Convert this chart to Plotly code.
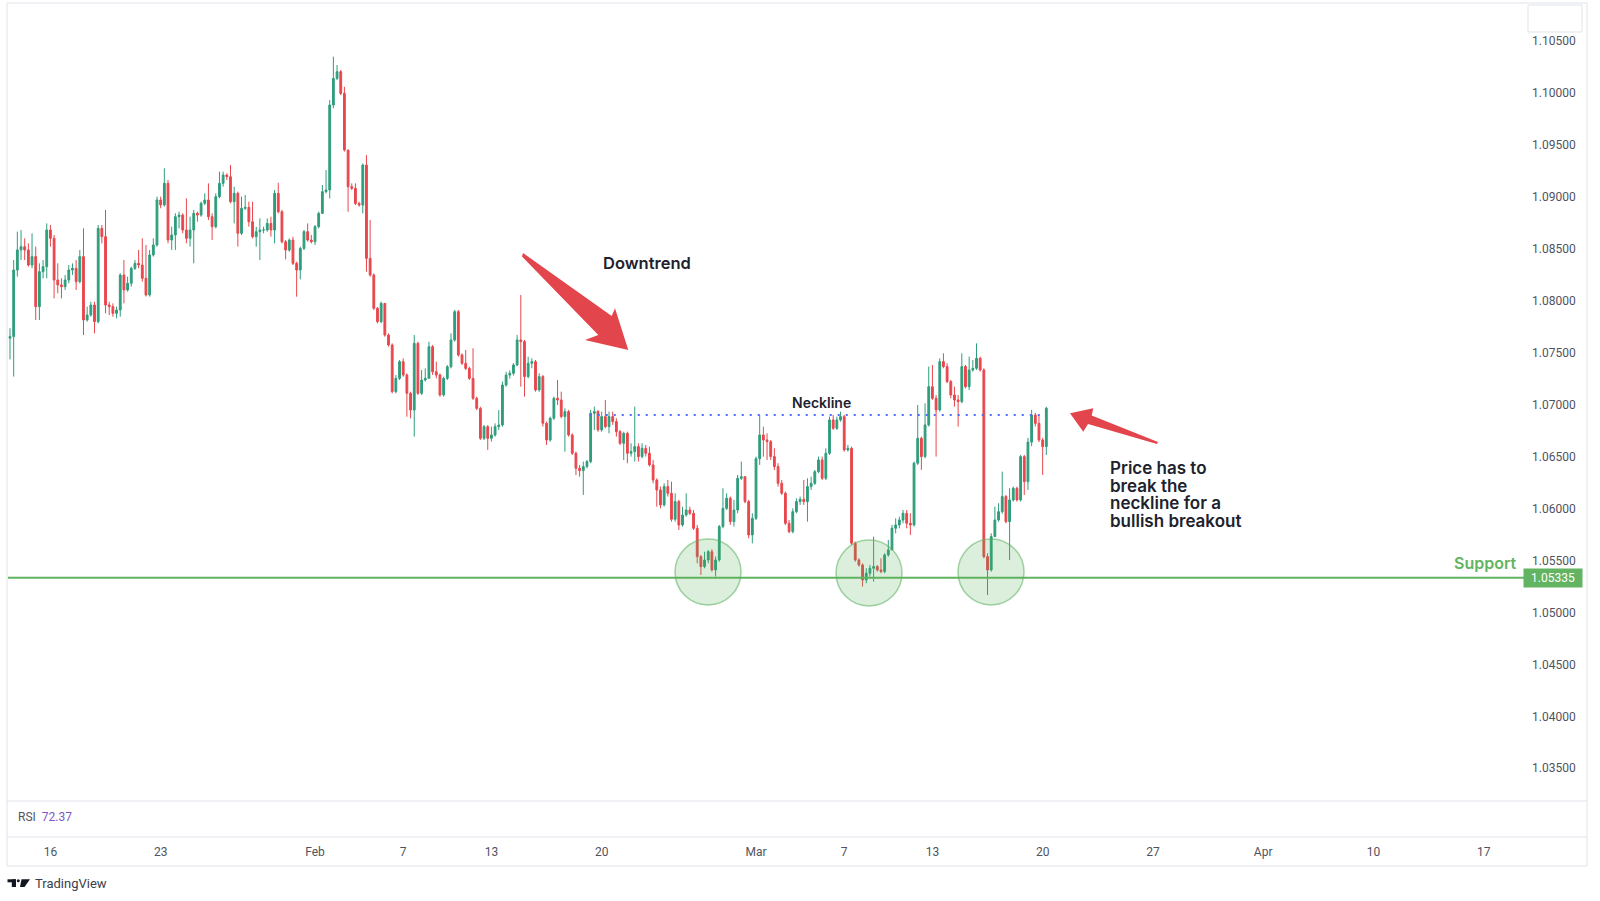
import pandas as pd
import plotly.graph_objects as go

# EUR/USD, 4h candles from 12 Jan to 20 Mar 2023
first_open = 1.07639

closes = [
    1.07655, 1.08296, 1.08489, 1.08521, 1.08489,                    # Jan 12
    1.08344, 1.08425, 1.07943, 1.08280, 1.08328, 1.08681,           # Jan 13
    1.08601, 1.08200, 1.08152, 1.08136, 1.08200, 1.08296,           # Jan 16
    1.08312, 1.08184, 1.08425, 1.07815, 1.07863, 1.07959,           # Jan 17
    1.07799, 1.08697, 1.08617, 1.07959, 1.07943, 1.07879,           # Jan 18
    1.07911, 1.08248, 1.08104, 1.08168, 1.08312, 1.08360,           # Jan 19
    1.08344, 1.08216, 1.08056, 1.08441, 1.08537, 1.08970,           # Jan 20
    1.08922, 1.09130, 1.08585, 1.08633, 1.08809, 1.08825,           # Jan 23
    1.08681, 1.08601, 1.08681, 1.08842, 1.08825, 1.08938,           # Jan 24
    1.08970, 1.08809, 1.08713, 1.09002, 1.09130, 1.09210,           # Jan 25
    1.09194, 1.08954, 1.09034, 1.08649, 1.08890, 1.08899,           # Jan 26
    1.08760, 1.08617, 1.08665, 1.08681, 1.08681, 1.08745,           # Jan 27
    1.08681, 1.09034, 1.08857, 1.08568, 1.08488, 1.08584,           # Jan 30
    1.08360, 1.08296, 1.08504, 1.08665, 1.08584, 1.08568,           # Jan 31
    1.08713, 1.08841, 1.09050, 1.09066, 1.09884, 1.10140,           # Feb 1
    1.10205, 1.09996, 1.09451, 1.09098, 1.09082, 1.08937,           # Feb 2
    1.08921, 1.09306, 1.08408, 1.08248, 1.07927, 1.07799,           # Feb 3
    1.07975, 1.07670, 1.07574, 1.07125, 1.07253, 1.07414,           # Feb 6
    1.07285, 1.07109, 1.06948, 1.07590, 1.07109, 1.07237,           # Feb 7
    1.07253, 1.07558, 1.07317, 1.07285, 1.07093, 1.07253,           # Feb 8
    1.07365, 1.07622, 1.07895, 1.07478, 1.07398, 1.07349,           # Feb 9
    1.07253, 1.07061, 1.06964, 1.06676, 1.06788, 1.06676,           # Feb 10
    1.06708, 1.06788, 1.06804, 1.07189, 1.07285, 1.07302,           # Feb 13
    1.07382, 1.07623, 1.07607, 1.07270, 1.07398, 1.07414,           # Feb 14
    1.07141, 1.07270, 1.06821, 1.06660, 1.06869, 1.07061,           # Feb 15
    1.07045, 1.06885, 1.06933, 1.06708, 1.06532, 1.06388,           # Feb 16
    1.06365, 1.06404, 1.06452, 1.06917, 1.06933, 1.06757,           # Feb 17
    1.06885, 1.06788, 1.06885, 1.06837, 1.06740, 1.06628,           # Feb 20
    1.06724, 1.06532, 1.06548, 1.06596, 1.06500, 1.06580,           # Feb 21
    1.06532, 1.06420, 1.06275, 1.06179, 1.06035, 1.06211,           # Feb 22
    1.06147, 1.05897, 1.06067, 1.05842, 1.05938, 1.05986,           # Feb 23
    1.05954, 1.05810, 1.05537, 1.05441, 1.05505, 1.05585,           # Feb 24
    1.05409, 1.05505, 1.05826, 1.06002, 1.06099, 1.05874,           # Feb 27
    1.05986, 1.06291, 1.06307, 1.06067, 1.05746, 1.05906,           # Feb 28
    1.06480, 1.06708, 1.06660, 1.06644, 1.06500, 1.06404,           # Mar 1
    1.06243, 1.06147, 1.05858, 1.05778, 1.05970, 1.06067,           # Mar 2
    1.06089, 1.06067, 1.06211, 1.06243, 1.06355, 1.06468,           # Mar 3
    1.06291, 1.06532, 1.06853, 1.06772, 1.06853, 1.06885,           # Mar 6
    1.06564, 1.06580, 1.05666, 1.05505, 1.05457, 1.05313,           # Mar 7
    1.05377, 1.05425, 1.05441, 1.05409, 1.05393, 1.05554,           # Mar 8
    1.05602, 1.05810, 1.05842, 1.05890, 1.05954, 1.05858,           # Mar 9
    1.05842, 1.06436, 1.06676, 1.06500, 1.06805, 1.07173,           # Mar 10
    1.07061, 1.06949, 1.07414, 1.07366, 1.07222, 1.07093,           # Mar 13
    1.07045, 1.07029, 1.07366, 1.07173, 1.07334, 1.07350,           # Mar 14
    1.07446, 1.07334, 1.05537, 1.05409, 1.05730, 1.05890,           # Mar 15
    1.05970, 1.06115, 1.05874, 1.06083, 1.06195, 1.06083,           # Mar 16
    1.06500, 1.06259, 1.06640, 1.06900, 1.06820, 1.06660,           # Mar 17
    1.06596, 1.06965,                                               # Mar 20
]

highs = [
    1.07735, 1.08392, 1.08665, 1.08681, 1.08601,
    1.08553, 1.08649, 1.08521, 1.08360, 1.08392, 1.08745,
    1.08729, 1.08633, 1.08360, 1.08216, 1.08248, 1.08344,
    1.08360, 1.08392, 1.08489, 1.08697, 1.07943, 1.07991,
    1.07991, 1.08729, 1.08729, 1.08874, 1.07991, 1.07975,
    1.07943, 1.08264, 1.08392, 1.08232, 1.08328, 1.08392,
    1.08489, 1.08601, 1.08537, 1.08489, 1.08601, 1.09002,
    1.09002, 1.09275, 1.09162, 1.08713, 1.08842, 1.08858,
    1.08842, 1.08986, 1.08809, 1.08874, 1.08858, 1.08954,
    1.09034, 1.09130, 1.08842, 1.09034, 1.09243, 1.09243,
    1.09226, 1.09307, 1.09098, 1.09050, 1.09002, 1.09018,
    1.08954, 1.08953, 1.08713, 1.08793, 1.08713, 1.08793,
    1.08809, 1.09066, 1.09136, 1.08873, 1.08584, 1.08600,
    1.08616, 1.08376, 1.08520, 1.08681, 1.08745, 1.08633,
    1.08729, 1.08857, 1.09114, 1.09258, 1.09932, 1.10349,
    1.10269, 1.10221, 1.10060, 1.09451, 1.09130, 1.09130,
    1.08953, 1.09322, 1.09402, 1.08777, 1.08264, 1.07940,
    1.07991, 1.07975, 1.07686, 1.07590, 1.07285, 1.07430,
    1.07446, 1.07301, 1.07125, 1.07670, 1.07606, 1.07333,
    1.07349, 1.07606, 1.07574, 1.07414, 1.07301, 1.07269,
    1.07381, 1.07686, 1.07911, 1.07911, 1.07494, 1.07526,
    1.07365, 1.07542, 1.07077, 1.06980, 1.06804, 1.06804,
    1.06788, 1.06820, 1.06948, 1.07221, 1.07317, 1.07330,
    1.07400, 1.07671, 1.08056, 1.07623, 1.07462, 1.07446,
    1.07430, 1.07302, 1.07286, 1.06837, 1.06885, 1.07077,
    1.07238, 1.07125, 1.06965, 1.06949, 1.06724, 1.06548,
    1.06420, 1.06452, 1.06468, 1.06949, 1.06981, 1.06949,
    1.06933, 1.07045, 1.06933, 1.06933, 1.06869, 1.06757,
    1.06740, 1.06740, 1.06628, 1.06981, 1.06628, 1.06628,
    1.06612, 1.06596, 1.06468, 1.06291, 1.06211, 1.06243,
    1.06275, 1.06259, 1.06147, 1.06083, 1.06018, 1.06147,
    1.06018, 1.05986, 1.05842, 1.05553, 1.05585, 1.05601,
    1.05608, 1.05537, 1.05842, 1.06195, 1.06147, 1.06115,
    1.06083, 1.06323, 1.06452, 1.06307, 1.06083, 1.05954,
    1.06500, 1.06901, 1.06788, 1.06724, 1.06660, 1.06580,
    1.06436, 1.06275, 1.06163, 1.05890, 1.06002, 1.06099,
    1.06115, 1.06275, 1.06291, 1.06307, 1.06371, 1.06500,
    1.06500, 1.06580, 1.06885, 1.06901, 1.06885, 1.06933,
    1.06901, 1.06612, 1.06596, 1.05682, 1.05521, 1.05473,
    1.05425, 1.05457, 1.05730, 1.05457, 1.05521, 1.05570,
    1.05698, 1.05842, 1.05906, 1.05922, 1.05986, 1.05986,
    1.05954, 1.06452, 1.06997, 1.06692, 1.07013, 1.07366,
    1.07382, 1.07093, 1.07446, 1.07494, 1.07398, 1.07238,
    1.07173, 1.07093, 1.07494, 1.07382, 1.07462, 1.07430,
    1.07590, 1.07462, 1.07350, 1.05569, 1.05762, 1.06018,
    1.06051, 1.06355, 1.06131, 1.06195, 1.06211, 1.06211,
    1.06516, 1.06516, 1.06680, 1.06950, 1.06920, 1.06900,
    1.06680, 1.06980,
]

lows = [
    1.07436, 1.07270, 1.08232, 1.08392, 1.08392,
    1.08328, 1.08312, 1.07815, 1.07815, 1.08216, 1.08216,
    1.08521, 1.08023, 1.08072, 1.08023, 1.08104, 1.08168,
    1.08248, 1.08104, 1.08168, 1.07671, 1.07799, 1.07847,
    1.07687, 1.07783, 1.08553, 1.07879, 1.07863, 1.07847,
    1.07831, 1.07847, 1.07975, 1.08088, 1.08136, 1.08296,
    1.08312, 1.08184, 1.08040, 1.08040, 1.08425, 1.08521,
    1.08890, 1.08906, 1.08553, 1.08489, 1.08489, 1.08697,
    1.08649, 1.08553, 1.08521, 1.08360, 1.08761, 1.08809,
    1.08922, 1.08777, 1.08585, 1.08697, 1.08986, 1.09098,
    1.09162, 1.08938, 1.08745, 1.08521, 1.08633, 1.08874,
    1.08713, 1.08600, 1.08520, 1.08392, 1.08650, 1.08665,
    1.08617, 1.08552, 1.08841, 1.08552, 1.08398, 1.08472,
    1.08344, 1.08039, 1.08206, 1.08488, 1.08568, 1.08552,
    1.08536, 1.08697, 1.08841, 1.09034, 1.08985, 1.09852,
    1.10124, 1.09980, 1.09435, 1.08857, 1.09066, 1.08921,
    1.08905, 1.08841, 1.08280, 1.08232, 1.07911, 1.07783,
    1.07783, 1.07654, 1.07558, 1.07109, 1.07109, 1.07237,
    1.07269, 1.06884, 1.06868, 1.06692, 1.07093, 1.07093,
    1.07221, 1.07253, 1.07285, 1.07253, 1.07077, 1.07077,
    1.07237, 1.07349, 1.07606, 1.07462, 1.07382, 1.07333,
    1.07237, 1.07045, 1.06948, 1.06660, 1.06660, 1.06564,
    1.06644, 1.06692, 1.06756, 1.06788, 1.07173, 1.07250,
    1.07280, 1.07370, 1.07173, 1.07077, 1.07254, 1.07350,
    1.07125, 1.07125, 1.06789, 1.06612, 1.06644, 1.06853,
    1.06997, 1.06869, 1.06548, 1.06692, 1.06516, 1.06323,
    1.06307, 1.06131, 1.06388, 1.06436, 1.06756, 1.06740,
    1.06740, 1.06772, 1.06724, 1.06805, 1.06692, 1.06612,
    1.06468, 1.06436, 1.06500, 1.06452, 1.06452, 1.06484,
    1.06500, 1.06404, 1.06243, 1.06018, 1.06002, 1.06018,
    1.06115, 1.05874, 1.05874, 1.05794, 1.05826, 1.05922,
    1.05938, 1.05794, 1.05473, 1.05361, 1.05425, 1.05473,
    1.05393, 1.05345, 1.05489, 1.05810, 1.05986, 1.05842,
    1.05826, 1.05954, 1.06275, 1.06051, 1.05714, 1.05665,
    1.05890, 1.06420, 1.06500, 1.06468, 1.06468, 1.06372,
    1.06211, 1.06131, 1.05842, 1.05762, 1.05762, 1.05954,
    1.06035, 1.06035, 1.05874, 1.06179, 1.06227, 1.06340,
    1.06275, 1.06275, 1.06516, 1.06756, 1.06756, 1.06837,
    1.06548, 1.06548, 1.05650, 1.05489, 1.05441, 1.05249,
    1.05281, 1.05345, 1.05297, 1.05393, 1.05377, 1.05377,
    1.05537, 1.05602, 1.05762, 1.05810, 1.05858, 1.05810,
    1.05746, 1.05826, 1.06420, 1.06372, 1.06484, 1.06789,
    1.07045, 1.06500, 1.06933, 1.07350, 1.07206, 1.07061,
    1.06981, 1.06788, 1.07013, 1.07157, 1.07141, 1.07318,
    1.07334, 1.07318, 1.05521, 1.05168, 1.05393, 1.05730,
    1.05874, 1.05950, 1.05858, 1.05505, 1.06067, 1.06067,
    1.06067, 1.06131, 1.06180, 1.06600, 1.06790, 1.06640,
    1.06323, 1.06516,
]

price_ticks = [1.035, 1.040, 1.045, 1.050, 1.055, 1.060, 1.065, 1.070,
               1.075, 1.080, 1.085, 1.090, 1.095, 1.100, 1.105]
date_ticks = ["2023-01-16", "2023-01-23", "2023-02-01", "2023-02-07",
              "2023-02-13", "2023-02-20", "2023-03-01", "2023-03-07",
              "2023-03-13", "2023-03-20", "2023-03-27", "2023-04-03",
              "2023-04-10", "2023-04-17"]
date_labels = ["16", "23", "Feb", "7", "13", "20", "Mar", "7", "13", "20",
               "27", "Apr", "10", "17"]

support_level = 1.05335
neckline_level = 1.0690
neckline_span = ["2023-02-17 11:00", "2023-03-20 02:00"]
rsi_value = 72.37

UP = "#2f9d7c"
DOWN = "#e8474d"
ARROW = "#e2464c"
GREEN = "#62b462"
FRAME = "#e0e3eb"

# page geometry (pixels); the plot area covers the price pane only
W, H = 1600, 901
PL, PR, PT, PB = 8, 1525, 3, 801


def fx(px):
    return (px - PL) / (PR - PL)


def fy(py):
    return (PB - py) / (PB - PT)


def poly(points):
    return "M " + " L ".join(f"{fx(x):.5f},{fy(y):.5f}" for x, y in points) + " Z"


days = pd.bdate_range("2023-01-12", "2023-03-20")
slots = [d + pd.Timedelta(hours=h) for d in days for h in range(0, 24, 4)]
times = slots[1:1 + len(closes)]
opens = [first_open] + closes[:-1]

fig = go.Figure()
fig.add_trace(go.Candlestick(
    x=times, open=opens, high=highs, low=lows, close=closes,
    increasing=dict(line=dict(color=UP, width=1), fillcolor=UP),
    decreasing=dict(line=dict(color=DOWN, width=1), fillcolor=DOWN),
    whiskerwidth=0, showlegend=False, hoverinfo="skip",
))

shapes = []
# support and neckline
shapes.append(dict(type="line", xref="paper", x0=0, x1=1, yref="y",
                   y0=support_level, y1=support_level,
                   line=dict(color=GREEN, width=2)))
shapes.append(dict(type="line", xref="x", x0=neckline_span[0], x1=neckline_span[1],
                   yref="y", y0=neckline_level, y1=neckline_level,
                   line=dict(color="#4f6df5", width=2, dash="2px,6px")))
# triple bottom circles
for cx, cy in [(708, 572), (869, 573), (991, 572)]:
    r = 33
    shapes.append(dict(type="circle", xref="paper", yref="paper",
                       x0=fx(cx - r), x1=fx(cx + r), y0=fy(cy + r), y1=fy(cy - r),
                       fillcolor="rgba(76,175,80,0.2)",
                       line=dict(color="rgba(90,175,90,0.55)", width=1.5)))
# arrows
shapes.append(dict(type="path", xref="paper", yref="paper", fillcolor=ARROW,
                   line=dict(width=0),
                   path=poly([(523, 253), (611.7, 316), (615, 308.3), (628.3, 350),
                              (585, 340), (598.3, 335), (522, 256.5)])))
shapes.append(dict(type="path", xref="paper", yref="paper", fillcolor=ARROW,
                   line=dict(width=0),
                   path=poly([(1070, 413.3), (1093.3, 408.3), (1091.7, 415.5),
                              (1158, 442), (1157, 444), (1088, 424), (1083.3, 431.7)])))
# pane frame
for x0, y0, x1, y1 in [(7, 3, 1587, 3), (7, 3, 7, 866), (1587, 3, 1587, 866),
                       (7, 801, 1587, 801), (7, 837, 1587, 837), (7, 866, 1587, 866)]:
    shapes.append(dict(type="line", xref="paper", yref="paper",
                       x0=fx(x0), x1=fx(x1), y0=fy(y0), y1=fy(y1),
                       line=dict(color=FRAME, width=1)))
shapes.append(dict(type="rect", xref="paper", yref="paper",
                   x0=fx(1528), x1=fx(1582), y0=fy(32), y1=fy(5),
                   fillcolor="white", line=dict(color=FRAME, width=1)))
# TradingView logo
shapes.append(dict(type="rect", xref="paper", yref="paper", x0=fx(7.5), x1=fx(16),
                   y0=fy(882.3), y1=fy(879.3), fillcolor="#131722", line=dict(width=0)))
shapes.append(dict(type="rect", xref="paper", yref="paper", x0=fx(11.8), x1=fx(16),
                   y0=fy(887), y1=fy(879.3), fillcolor="#131722", line=dict(width=0)))
shapes.append(dict(type="circle", xref="paper", yref="paper", x0=fx(16.8), x1=fx(19.8),
                   y0=fy(882.3), y1=fy(879.3), fillcolor="#131722", line=dict(width=0)))
shapes.append(dict(type="path", xref="paper", yref="paper", fillcolor="#131722",
                   line=dict(width=0),
                   path=poly([(21.5, 879.3), (30, 879.3), (24.5, 887), (20, 887)])))

bold = dict(family="Inter", color="#1e222d", weight=600)
annotations = [
    dict(text="Downtrend", x=fx(601), y=fy(263), xanchor="left", yanchor="middle",
         font=dict(size=16.5, **bold)),
    dict(text="Neckline", x=fx(821), y=fy(402), xanchor="center", yanchor="middle",
         font=dict(size=14, **bold)),
    dict(text="Support", x=fx(1519), y=fy(563), xanchor="right", yanchor="middle",
         font=dict(family="Inter", size=16, color=GREEN, weight=600)),
    dict(text=f"{support_level:.5f}", x=fx(1553), y=support_level, yref="y",
         xanchor="center", yanchor="middle", bgcolor=GREEN, width=54, height=14,
         borderpad=2, font=dict(family="Roboto", size=12, color="white")),
    dict(text=f"RSI  <span style='color:#7e57c2'>{rsi_value:.2f}</span>",
         x=fx(16), y=fy(817), xanchor="left", yanchor="middle",
         font=dict(family="Roboto", size=12, color="#50535e")),
    dict(text="TradingView", x=fx(33), y=fy(884), xanchor="left", yanchor="middle",
         font=dict(family="Roboto", size=13, color="#3b3e47")),
]
for i, line in enumerate(["Price has to", "break the", "neckline for a", "bullish breakout"]):
    annotations.append(dict(text=line, x=fx(1108), y=fy(468 + 17.6 * i),
                            xanchor="left", yanchor="middle",
                            font=dict(size=17, **bold)))
for a in annotations:
    a.setdefault("xref", "paper")
    a.setdefault("yref", "paper")
    a["showarrow"] = False

tick_font = dict(family="Roboto", size=12, color="#50535e")
fig.update_layout(
    width=W, height=H,
    margin=dict(l=PL, r=W - PR, t=PT, b=H - PB, autoexpand=False),
    paper_bgcolor="white", plot_bgcolor="white",
    showlegend=False, hovermode=False,
    xaxis=dict(type="date", range=["2023-01-12 01:50", "2023-04-18 21:00"],
               rangebreaks=[dict(bounds=["sat", "mon"])],
               rangeslider=dict(visible=False),
               tickvals=date_ticks, ticktext=date_labels, tickfont=tick_font,
               ticks="", ticklabelstandoff=42,
               showgrid=False, zeroline=False, showline=False),
    yaxis=dict(side="right", range=[1.03185, 1.10866], tickvals=price_ticks,
               tickformat=".5f", showgrid=False, zeroline=False, showline=False,
               ticks="", tickfont=tick_font, ticklabelstandoff=6),
    shapes=shapes,
    annotations=annotations,
)

fig.write_html("out.html", config={"displayModeBar": False},
               post_script="document.body.style.margin='0';"
                           "document.body.style.overflow='hidden';")
